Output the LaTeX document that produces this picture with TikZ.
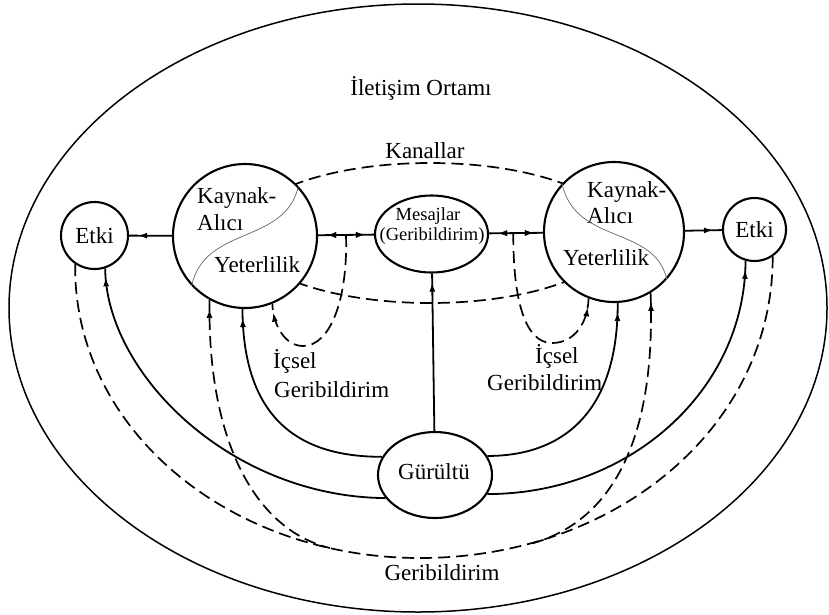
\documentclass[tikz,border=0pt]{standalone}
\usepackage{fontspec}
\setmainfont{Liberation Serif}
\usetikzlibrary{arrows.meta,decorations.markings,calc,shapes.geometric}
\tikzset{
  every node/.style={font=\fontsize{23}{27}\selectfont, inner sep=0pt},
  ln/.style={line width=1.8pt},
  dsh/.style={line width=1.7pt, dash pattern=on 12pt off 6pt},
  endarr/.style={postaction={decorate}, decoration={markings, mark=at position -9pt with {\arrow{Latex[length=9pt,width=6pt]}}}},
  startarr/.style={postaction={decorate}, decoration={markings, mark=at position 9pt with {\arrowreversed{Latex[length=9pt,width=6pt]}}}},
  circ/.style={circle, draw, line width=2.1pt, fill=white},
  ell/.style={ellipse, draw, line width=2.1pt, fill=white},
  thin/.style={line width=0.7pt, black!60},
  small/.style={font=\fontsize{18.5}{21}\selectfont},
}
\begin{document}
\begin{tikzpicture}[x=1pt,y=-1pt]
\useasboundingbox (0,0) rectangle (829,614);
% environment
\node[ellipse, draw, line width=1.5pt, minimum width=818pt, minimum height=608pt] (env) at (418,308) {};
\node[anchor=base] (title) at (421,95) {İletişim Ortamı};
% channels
\node[ellipse, draw, dsh, minimum width=376pt, minimum height=140pt] (kan) at (430,233) {};
\node[anchor=base] (kantxt) at (425,158) {Kanallar};
% main nodes
\node[circ, minimum size=67pt] (el) at (94.5,235.5) {Etki};
\node[circ, minimum size=144pt] (kl) at (245,236) {};
\node[ell, minimum width=113pt, minimum height=77pt] (msg) at (431.5,234) {};
\node[circ, minimum size=140pt] (kr) at (614,232) {};
\node[circ, minimum size=63pt] (er) at (754.5,229.5) {Etki};
\node[ell, minimum width=114pt, minimum height=86pt] (g) at (435,475) {};
\node[anchor=base] (gtxt) at (434,479) {Gürültü};
% texts in circles
\node[anchor=base west] (kl1) at (197,203) {Kaynak-};
\node[anchor=base west] (kl2) at (197,230) {Alıcı};
\node[anchor=base west] (kl3) at (214,272) {Yeterlilik};
\node[anchor=base west] (kr1) at (587,197) {Kaynak-};
\node[anchor=base west] (kr2) at (587,223) {Alıcı};
\node[anchor=base west] (kr3) at (563,265) {Yeterlilik};
\node[small, anchor=base] (m1) at (428,220) {Mesajlar};
\node[small, anchor=base] (m2) at (432,240) {(Geribildirim)};
% S curves
\draw[thin] (kl.43) .. controls (285,245) and (205,225) .. (kl.223);
\draw[thin] (kr.137) .. controls (575,245) and (655,225) .. (kr.318);
% horizontal connectors
\draw[ln, endarr] (kl) -- (el);
\draw[ln, endarr, startarr] (kl) -- (msg);
\draw[ln, endarr, startarr] (msg) -- (kr);
\draw[ln, endarr] (kr) -- (er);
% internal feedback
\coordinate (tl) at ($(kl.east)!0.5!(msg.west)$);
\coordinate (tr) at ($(msg.east)!0.45!(kr.west)$);
\draw[dsh, endarr] (tl) .. controls (348,300) and (330,346) .. (303,346)
   .. controls (285,346) and (273,325) .. (kl.292);
\draw[dsh, endarr] (tr) .. controls (513,300) and (525,343) .. (552,343)
   .. controls (575,343) and (588,322) .. (kr.249);
\node[anchor=base west] (ic1) at (273,368) {İçsel};
\node[anchor=base west] (ic2) at (274,397) {Geribildirim};
\node[anchor=base west] (ic3) at (535,363) {İçsel};
\node[anchor=base west] (ic4) at (487,390) {Geribildirim};
% noise
\draw[ln, endarr] (g) -- (msg);
\draw[ln, endarr] (g.161) .. controls (295,457) and (243,415) .. (kl.268);
\draw[ln, endarr] (g.205) .. controls (230,497) and (106,373) .. (el.288);
\draw[ln, endarr] (g.20) .. controls (565,456) and (618,410) .. (kr.273);
\draw[ln, endarr] (g.340) .. controls (630,494) and (745,390) .. (er.254);
% feedback
\draw[dsh] (el.236) .. controls (73,428) and (228,558) .. (420,558)
   .. controls (615,558) and (773,428) .. (er.304);
\draw[dsh, startarr] (kl.241) .. controls (207,440) and (255,530) .. (330,548);
\draw[dsh, startarr] (kr.301) .. controls (656,440) and (612,522) .. (530,544);
\node[anchor=base] (gb) at (442,580) {Geribildirim};
\end{tikzpicture}
\end{document}
